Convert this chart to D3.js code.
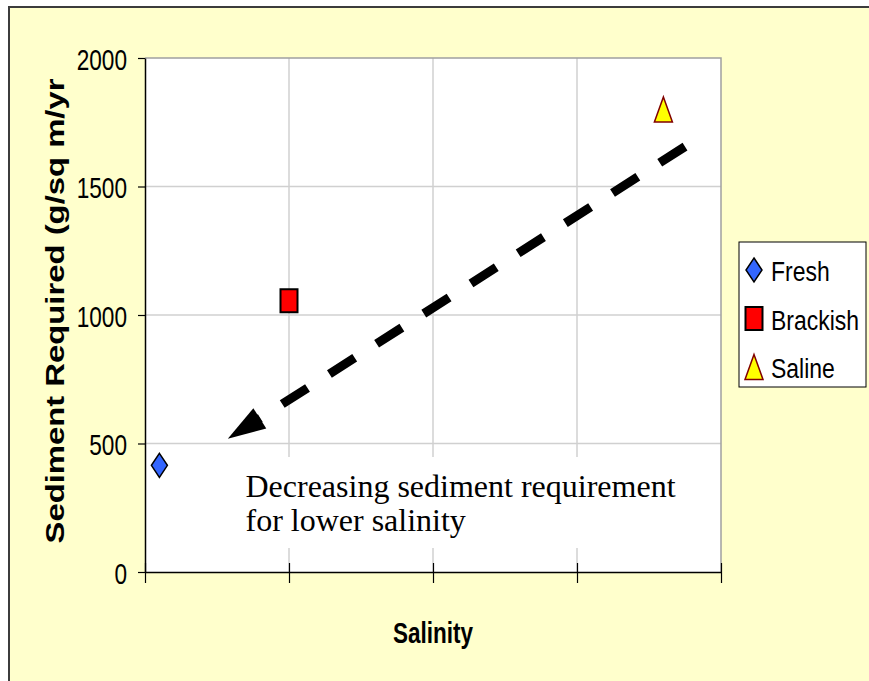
<!DOCTYPE html>
<html>
<head>
<meta charset="utf-8">
<script src="https://cdn.jsdelivr.net/npm/d3@7"></script>
<style>
  html, body { margin: 0; padding: 0; background: #ffffff; overflow: hidden; }
  svg { display: block; }
</style>
</head>
<body>
<script>
// ---- data ----
const categories = ["Fresh", "Brackish", "Saline"];
const salinity = [1, 10, 36];
const sediment = [415, 1055, 1800];
const yTicks = [0, 500, 1000, 1500, 2000];
const xTicks = [0, 10, 20, 30, 40];
const yTitle = "Sediment Required (g/sq m/yr";
const xTitle = "Salinity";
const noteLines = ["Decreasing sediment requirement", "for lower salinity"];
const arrowFrom = [37.5, 1655];
const arrowTo = [5.75, 518];

// ---- layout ----
const W = 869, H = 681;
const plot = { left: 145, top: 58, right: 721, bottom: 572 };
const fills = ["#3366FF", "#FF0000", "#FFFF00"];
const strokes = ["#000000", "#000000", "#800000"];

const svg = d3.select("body").append("svg").attr("width", W).attr("height", H);

// chart area background (border only on top and left; right/bottom fall outside the picture)
svg.append("rect").attr("x", 9).attr("y", 7).attr("width", W - 9).attr("height", H - 7)
  .attr("fill", "#FFFFCC");
svg.append("path").attr("d", `M9,${H}V7H${W}`)
  .attr("fill", "none").attr("stroke", "#3c3c3c").attr("stroke-width", 2);

const x = d3.scaleLinear().domain([0, 40]).range([plot.left, plot.right]);
const y = d3.scaleLinear().domain([0, 2000]).range([plot.bottom, plot.top]);

// plot area
svg.append("rect").attr("x", plot.left).attr("y", plot.top)
  .attr("width", plot.right - plot.left).attr("height", plot.bottom - plot.top)
  .attr("fill", "#ffffff");

// gridlines
const grid = svg.append("g").attr("stroke", "#d0d0d0").attr("stroke-width", 1.5);
grid.selectAll("line.h").data(yTicks.slice(1, -1)).join("line")
  .attr("x1", plot.left).attr("x2", plot.right)
  .attr("y1", d => y(d)).attr("y2", d => y(d));
grid.selectAll("line.v").data(xTicks.slice(1, -1)).join("line")
  .attr("y1", plot.top).attr("y2", plot.bottom)
  .attr("x1", d => x(d)).attr("x2", d => x(d));

// plot border top & right
svg.append("path")
  .attr("d", `M${plot.left},${plot.top}H${plot.right}V${plot.bottom}`)
  .attr("fill", "none").attr("stroke", "#a0a0a0").attr("stroke-width", 1.5);

// note text box (white background)
const noteX = x(6.7), noteRight = x(38.2);
svg.append("rect").attr("x", noteX).attr("y", 457)
  .attr("width", noteRight - noteX).attr("height", 91).attr("fill", "#ffffff");
const note = svg.append("text").attr("font-family", "'Liberation Serif', 'Times New Roman', serif")
  .attr("font-size", 32).attr("fill", "#000");
note.selectAll("tspan").data(noteLines).join("tspan")
  .attr("x", noteX + 4).attr("y", (d, i) => 497 + i * 34).text(d => d);

// y axis
const yAxis = svg.append("g").attr("transform", `translate(${plot.left},0)`)
  .call(d3.axisLeft(y).tickValues(yTicks).tickSize(7).tickSizeOuter(0).tickFormat(d3.format("d")));
yAxis.select(".domain").attr("stroke", "#000").attr("stroke-width", 1.5);
yAxis.selectAll(".tick line").attr("stroke", "#000").attr("stroke-width", 1.2);
yAxis.selectAll(".tick text")
  .attr("x", null).attr("dy", null)
  .attr("transform", "translate(-18,11) scale(0.78,1)")
  .attr("font-family", "'Liberation Sans', Arial, sans-serif")
  .attr("font-size", 29).attr("fill", "#000").attr("text-anchor", "end");

// x axis
const xAxis = svg.append("g").attr("transform", `translate(0,${plot.bottom})`)
  .call(d3.axisBottom(x).tickValues(xTicks).tickSize(11).tickSizeOuter(0).tickFormat(""));
xAxis.select(".domain").attr("stroke", "#000").attr("stroke-width", 1.5);
xAxis.selectAll(".tick line").attr("stroke", "#000").attr("stroke-width", 1.2).attr("y1", -9);

// axis titles
svg.append("text")
  .attr("transform", `translate(${(plot.left + plot.right) / 2},643) scale(0.75,1)`)
  .attr("text-anchor", "middle")
  .attr("font-family", "'Liberation Sans', Arial, sans-serif")
  .attr("font-weight", "bold").attr("font-size", 30).attr("fill", "#000")
  .text(xTitle);

svg.append("text")
  .attr("transform", `translate(64,311) rotate(-90)`)
  .attr("text-anchor", "middle")
  .attr("font-family", "'Liberation Sans', Arial, sans-serif")
  .attr("font-weight", "bold").attr("font-size", 26).attr("fill", "#000")
  .attr("textLength", 465).attr("lengthAdjust", "spacingAndGlyphs")
  .text(yTitle);

// dashed arrow
const p0 = [x(arrowFrom[0]), y(arrowFrom[1])];
const p1 = [x(arrowTo[0]), y(arrowTo[1])];
const dx = p1[0] - p0[0], dy = p1[1] - p0[1];
const len = Math.hypot(dx, dy);
const ux = dx / len, uy = dy / len;
const headLen = 38, headHalf = 12;
const base = [p1[0] - ux * headLen, p1[1] - uy * headLen];
svg.append("line")
  .attr("x1", p0[0]).attr("y1", p0[1]).attr("x2", base[0] + ux * 2).attr("y2", base[1] + uy * 2)
  .attr("stroke", "#000").attr("stroke-width", 9)
  .attr("stroke-dasharray", "30,26");
svg.append("path")
  .attr("d", `M${p1[0]},${p1[1]}L${base[0] - uy * headHalf},${base[1] + ux * headHalf}L${base[0] + uy * headHalf},${base[1] - ux * headHalf}Z`)
  .attr("fill", "#000");

// marker shapes (w x h)
function markerPath(i) {
  if (i === 0) return "M0,-12L8,0L0,12L-8,0Z";
  if (i === 1) return "M-8.5,-11.5H8.5V11.5H-8.5Z";
  return "M0,-12.5L9,12.5L-9,12.5Z";
}

svg.append("g").selectAll("path").data(categories).join("path")
  .attr("transform", (d, i) => `translate(${x(salinity[i])},${y(sediment[i])})`)
  .attr("d", (d, i) => markerPath(i))
  .attr("fill", (d, i) => fills[i])
  .attr("stroke", (d, i) => strokes[i])
  .attr("stroke-width", (d, i) => i === 1 ? 2 : 1.5)
  .attr("stroke-linejoin", "miter");

// legend
const legend = svg.append("g");
legend.append("rect").attr("x", 739).attr("y", 242).attr("width", 127).attr("height", 145)
  .attr("fill", "#ffffff").attr("stroke", "#000").attr("stroke-width", 1);
const items = legend.selectAll("g.item").data(categories).join("g")
  .attr("transform", (d, i) => `translate(754,${270 + i * 48.5})`);
items.append("path")
  .attr("d", (d, i) => markerPath(i))
  .attr("fill", (d, i) => fills[i])
  .attr("stroke", (d, i) => strokes[i])
  .attr("stroke-width", (d, i) => i === 1 ? 2 : 1.5);
items.append("text")
  .attr("transform", "translate(17,11) scale(0.85,1)")
  .attr("font-family", "'Liberation Sans', Arial, sans-serif")
  .attr("font-size", 27).attr("fill", "#000")
  .text(d => d);
</script>
</body>
</html>
